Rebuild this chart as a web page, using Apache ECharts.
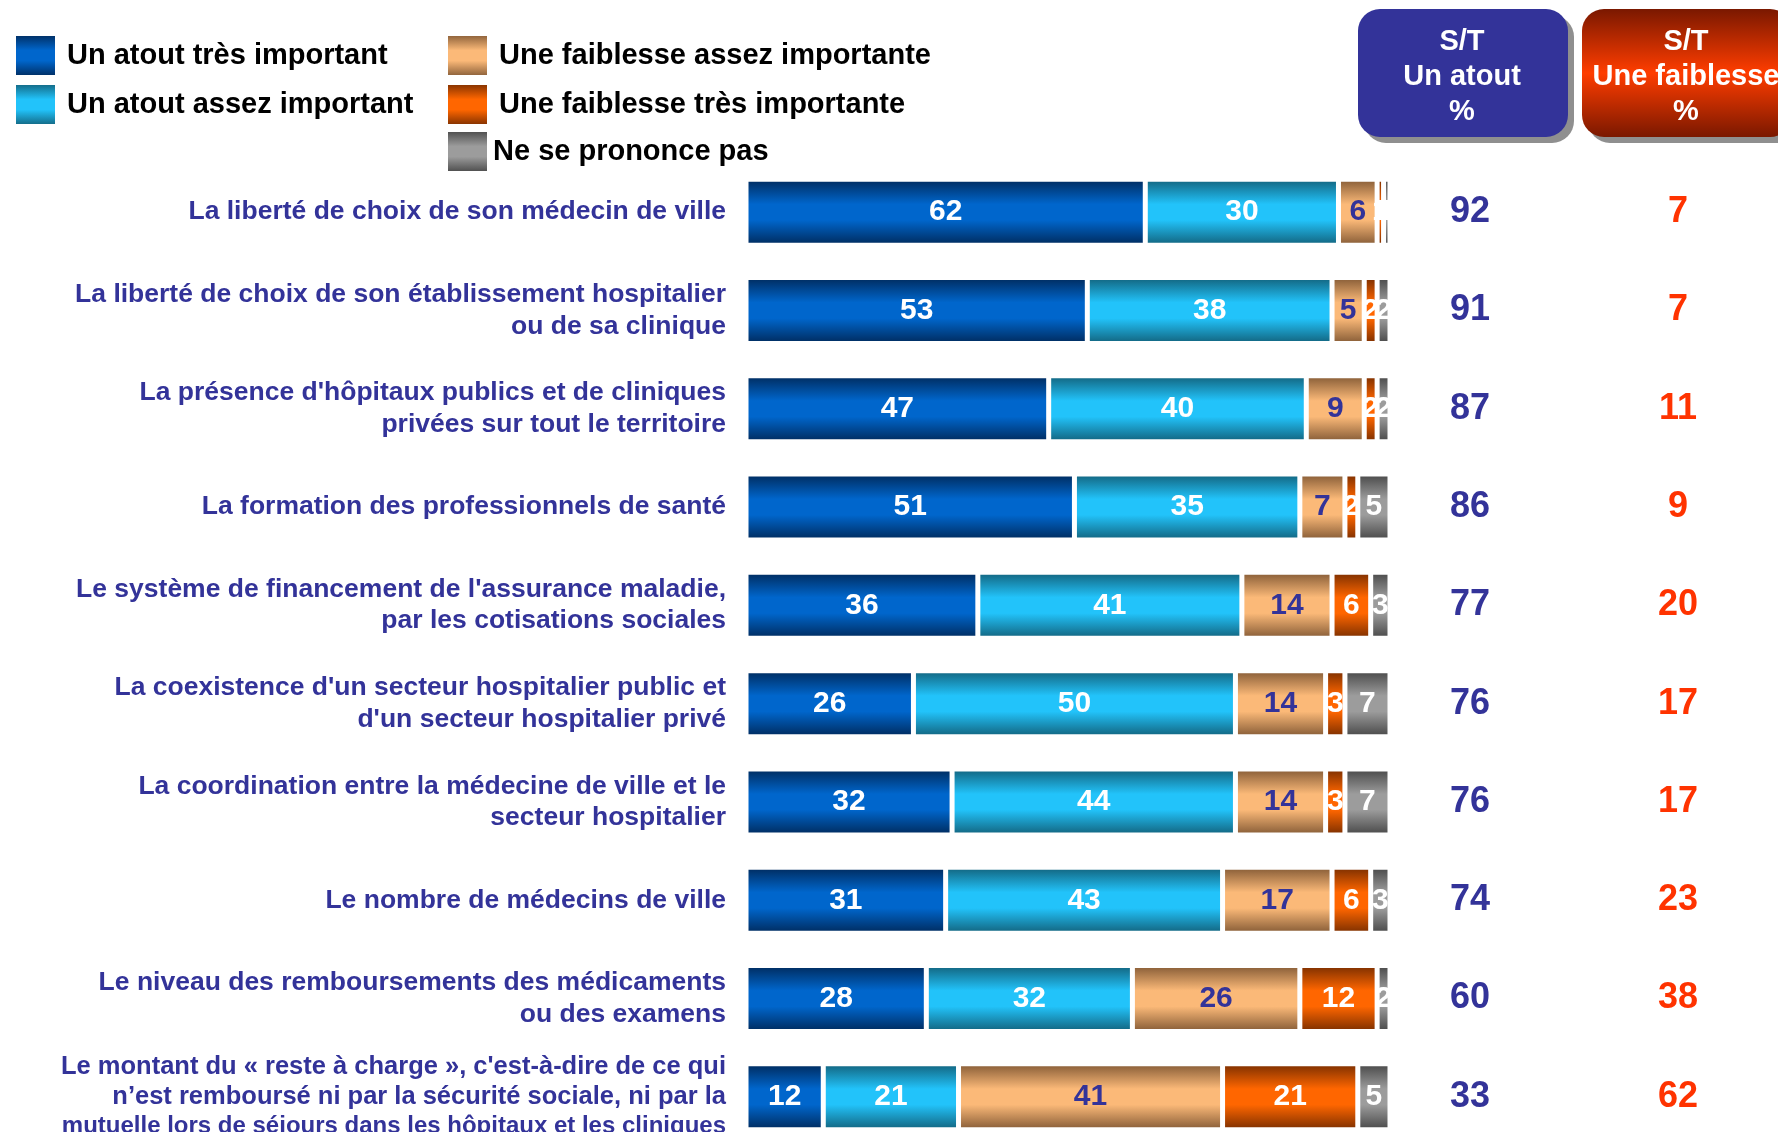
<!DOCTYPE html>
<html>
<head>
<meta charset="utf-8">
<script src="https://cdn.jsdelivr.net/npm/echarts@6/dist/echarts.min.js"></script>
<style>
html,body{margin:0;padding:0;background:#fff;overflow:hidden;}
#main{width:1778px;height:1132px;}
</style>
</head>
<body>
<div id="main"></div>
<script>
const categories = [
  "La liberté de choix de son médecin de ville",
  "La liberté de choix de son établissement hospitalier\nou de sa clinique",
  "La présence d'hôpitaux publics et de cliniques\nprivées sur tout le territoire",
  "La formation des professionnels de santé",
  "Le système de financement de l'assurance maladie,\npar les cotisations sociales",
  "La coexistence d'un secteur hospitalier public et\nd'un secteur hospitalier privé",
  "La coordination entre la médecine de ville et le\nsecteur hospitalier",
  "Le nombre de médecins de ville",
  "Le niveau des remboursements des médicaments\nou des examens",
  "Le montant du « reste à charge », c'est-à-dire de ce qui\nn’est remboursé ni par la sécurité sociale, ni par la\nmutuelle lors de séjours dans les hôpitaux et les cliniques"
];
const seriesNames = [
  "Un atout très important",
  "Un atout assez important",
  "Une faiblesse assez importante",
  "Une faiblesse très importante",
  "Ne se prononce pas"
];
const atoutTres = [62, 53, 47, 51, 36, 26, 32, 31, 28, 12];
const atoutAssez = [30, 38, 40, 35, 41, 50, 44, 43, 32, 21];
const faiblesseAssez = [6, 5, 9, 7, 14, 14, 14, 17, 26, 41];
const faiblesseTres = [1, 2, 2, 2, 6, 3, 3, 6, 12, 21];
const nsp = [1, 2, 2, 5, 3, 7, 7, 3, 2, 5];
const stAtout = [92, 91, 87, 86, 77, 76, 76, 74, 60, 33];
const stFaiblesse = [7, 7, 11, 9, 20, 17, 17, 23, 38, 62];
const columnHeaders = ["S/T\nUn atout\n%", "S/T\nUne faiblesse\n%"];

const FONT = "'Liberation Sans', Arial, Helvetica, sans-serif";
const NAVY = '#333399';

function vgrad(edge, mid) {
  return new echarts.graphic.LinearGradient(0, 0, 0, 1, [
    {offset: 0, color: edge},
    {offset: 0.38, color: mid},
    {offset: 0.62, color: mid},
    {offset: 1, color: edge}
  ]);
}
const fills = [
  vgrad('#002a5c', '#0066cc'),
  vgrad('#12627c', '#22c3fa'),
  vgrad('#845a35', '#fbb978'),
  vgrad('#7a2e00', '#ff6600'),
  vgrad('#474747', '#9c9c9c')
];
const labelColors = ['#ffffff', '#ffffff', NAVY, '#ffffff', '#ffffff'];
const values = [atoutTres, atoutAssez, faiblesseAssez, faiblesseTres, nsp];

const gridTop = 163, gridHeight = 983;

const barSeries = values.map((arr, k) => ({
  name: seriesNames[k],
  type: 'bar',
  stack: 'total',
  xAxisIndex: 0,
  yAxisIndex: 0,
  barWidth: 66,
  data: arr,
  itemStyle: {color: fills[k], borderColor: '#ffffff', borderWidth: 2.5},
  label: {
    show: true,
    position: 'inside',
    color: labelColors[k],
    fontSize: 30,
    fontWeight: 'bold',
    fontFamily: FONT
  },
  emphasis: {disabled: true}
}));

function stSeries(arr, col, color) {
  return {
    type: 'scatter',
    xAxisIndex: 1,
    yAxisIndex: 1,
    symbolSize: 1,
    itemStyle: {color: 'rgba(0,0,0,0)', opacity: 1},
    data: arr.map((v, i) => [col, i, v]),
    label: {
      show: true,
      position: 'inside',
      formatter: p => String(p.value[2]),
      color: color,
      opacity: 1,
      textBorderWidth: 0,
      fontSize: 36,
      fontWeight: 'bold',
      fontFamily: FONT
    },
    emphasis: {disabled: true},
    silent: true
  };
}

function headerBox(x, w, fill, text) {
  return {
    type: 'group',
    children: [
      {type: 'rect', shape: {x: x + 6, y: 15, width: w, height: 128, r: 22}, style: {fill: '#8f8f8f'}},
      {type: 'rect', shape: {x: x, y: 9, width: w, height: 128, r: 22}, style: {fill: fill}},
      {type: 'text', x: x + 104, y: 77, style: {
        text: text, fill: '#ffffff', fontSize: 29, fontWeight: 'bold', fontFamily: FONT,
        lineHeight: 35, align: 'center', verticalAlign: 'middle'
      }}
    ]
  };
}

// long three-line label: slightly smaller type, as in the original slide
function formatCategory(v) {
  const lines = v.split('\n');
  if (lines.length <= 2) return v;
  return lines.map((l, j) => (j === lines.length - 1 ? '{t|' : '{s|') + l + '}').join('\n');
}

const chart = echarts.init(document.getElementById('main'), null, {renderer: 'canvas'});
const legendText = {fontSize: 29, fontWeight: 'bold', color: '#000', fontFamily: FONT, padding: [0, 0, 0, 6]};
const legendBase = {orient: 'vertical', padding: 0, itemWidth: 41, itemHeight: 41, itemGap: 6,
  icon: 'rect', selectedMode: false};
const richBase = {fontWeight: 'bold', color: NAVY, fontFamily: FONT, align: 'right', lineHeight: 29.5};
chart.setOption({
  animation: false,
  backgroundColor: '#ffffff',
  legend: [
    Object.assign({data: seriesNames.slice(0, 2), left: 14, top: 34, textStyle: legendText}, legendBase),
    Object.assign({data: seriesNames.slice(2, 4), left: 446, top: 34, textStyle: legendText}, legendBase),
    Object.assign({data: seriesNames.slice(4), left: 446, top: 130,
      textStyle: Object.assign({}, legendText, {padding: [4, 0, 0, 0]})}, legendBase)
  ],
  grid: [
    {left: 746, width: 644, top: gridTop, height: gridHeight, outerBoundsMode: 'none'},
    {left: 1366, width: 416, top: gridTop, height: gridHeight, outerBoundsMode: 'none'}
  ],
  xAxis: [
    {type: 'value', min: 0, max: 100, gridIndex: 0, show: false},
    {type: 'category', data: ['Un atout', 'Une faiblesse'], gridIndex: 1, show: false}
  ],
  yAxis: [
    {type: 'category', data: categories, inverse: true, gridIndex: 0,
     axisLine: {show: false}, axisTick: {show: false}, splitLine: {show: false},
     axisLabel: {
       margin: 20, color: NAVY, fontSize: 26.5, fontWeight: 'bold', fontFamily: FONT, lineHeight: 31.5, align: 'right',
       formatter: formatCategory,
       rich: {
         s: Object.assign({fontSize: 25.5}, richBase),
         t: Object.assign({fontSize: 24}, richBase)
       }
     }},
    {type: 'category', data: categories, inverse: true, gridIndex: 1, show: false}
  ],
  series: barSeries.concat([
    stSeries(stAtout, 0, NAVY),
    stSeries(stFaiblesse, 1, '#ff3300')
  ]),
  graphic: [
    headerBox(1358, 210, NAVY, columnHeaders[0]),
    headerBox(1582, 210, new echarts.graphic.LinearGradient(0, 0, 0, 1, [
      {offset: 0, color: '#7a1800'}, {offset: 0.5, color: '#ff3d00'}, {offset: 1, color: '#7a1800'}
    ]), columnHeaders[1])
  ]
});
</script>
</body>
</html>
